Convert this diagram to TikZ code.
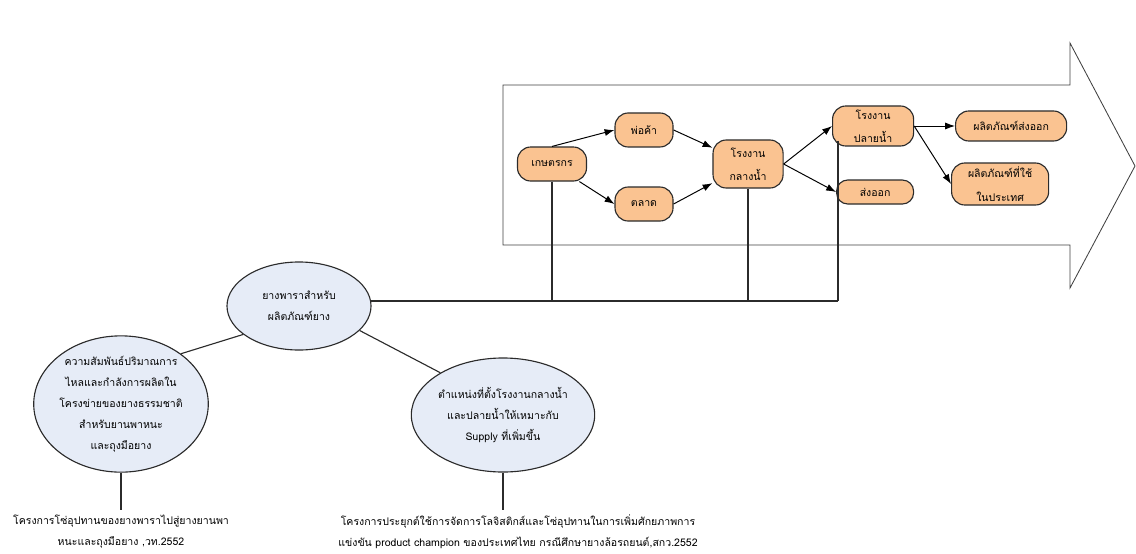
\documentclass[tikz,border=0pt]{standalone}
\usepackage{fontspec}
\newfontfamily\thaifont[Script=Thai]{Loma}
\usetikzlibrary{positioning, arrows.meta, calc, shapes.geometric}

\definecolor{boxorange}{HTML}{FAC391}
\definecolor{ellblue}{HTML}{E6ECF7}
\definecolor{edgegray}{HTML}{2B2B2B}

\begin{document}
\begin{tikzpicture}[x=0.025cm, y=-0.025cm, on grid,
    font=\thaifont\fontsize{7.5}{15}\selectfont,
    flowbox/.style={draw=edgegray, line width=0.8pt, fill=boxorange, rounded corners=0.33cm, align=center, inner sep=1pt, font=\thaifont\fontsize{7.5}{16.5}\selectfont},
    topic/.style={ellipse, draw=edgegray, line width=0.8pt, fill=ellblue, align=center, inner sep=0pt},
    source/.style={align=center, anchor=north, inner xsep=0pt, inner ysep=3pt},
    flow/.style={-{Latex[length=7pt,width=5pt]}, line width=0.7pt},
    link/.style={line width=0.8pt, draw=edgegray}]

  \useasboundingbox (0,0) rectangle (1136,553);

  % Big arrow behind the chain
  \draw[line width=0.6pt, draw=black!75, fill=white] (503,85) -- (1070,85) -- (1070,43) -- (1135,166) -- (1070,288) -- (1070,245) -- (503,245) -- cycle;

  % Nodes for the rubber chain
  \node[flowbox, minimum width=1.725cm, minimum height=0.85cm] (kaset) at (552,164) {เกษตรกร};
  \node[flowbox, minimum width=1.45cm, minimum height=0.85cm] (pho) [above right=0.85cm and 2.3cm of kaset] {พ่อค้า};
  \node[flowbox, minimum width=1.45cm, minimum height=0.85cm] (talad) [below right=1cm and 2.3cm of kaset] {ตลาด};
  \node[flowbox, minimum width=1.75cm, minimum height=1.2cm] (klang) [right=4.9cm of kaset] {โรงงาน\\กลางน้ำ};
  \node[flowbox, minimum width=2.025cm, minimum height=1cm] (pl) [above right=0.95cm and 3.125cm of klang] {โรงงาน\\ปลายน้ำ};
  \node[flowbox, minimum width=1.925cm, minimum height=0.6cm, rounded corners=0.28cm] (songok) [below right=0.7cm and 3.175cm of klang] {ส่งออก};
  \node[flowbox, minimum width=2.775cm, minimum height=0.75cm] (pexp) [right=3.45cm of pl] {ผลิตภัณฑ์ส่งออก};
  \node[flowbox, minimum width=2.425cm, minimum height=1.05cm] (pdom) [below right=1.45cm and 3.175cm of pl] {ผลิตภัณฑ์ที่ใช้\\ในประเทศ};

  % Nodes for the topics
  \node[topic, minimum width=3.6cm, minimum height=2.2cm] (rubber) at (299,306) {ยางพาราสำหรับ\\ผลิตภัณฑ์ยาง};
  \node[topic, minimum width=4.35cm, minimum height=3.3cm] (flowrel) at (121,404) {ความสัมพันธ์ปริมาณการ\\ไหลและกำลังการผลิตใน\\โครงข่ายของยางธรรมชาติ\\สำหรับยานพาหนะ\\และถุงมือยาง};
  \node[topic, minimum width=4.55cm, minimum height=2.85cm] (siting) at (503,415) {ตำแหน่งที่ตั้งโรงงานกลางน้ำ\\และปลายน้ำให้เหมาะกับ\\Supply ที่เพิ่มขึ้น};
  \node[source] (ref1) at (121,510) {โครงการโซ่อุปทานของยางพาราไปสู่ยางยานพา\\หนะและถุงมือยาง ,วท.2552};
  \node[source] (ref2) at (518,510) {โครงการประยุกต์ใช้การจัดการโลจิสติกส์และโซ่อุปทานในการเพิ่มศักยภาพการ\\แข่งขัน product champion ของประเทศไทย กรณีศึกษายางล้อรถยนต์,สกว.2552};

  % Edges for the rubber chain
  \path[flow]
    (kaset.north) edge (pho.west)
    (kaset) edge (talad.west)
    (pho.east) edge (klang)
    (talad.east) edge (klang)
    (klang.east) edge (pl.west)
    (klang.east) edge (songok.west)
    (pl.east) edge (pexp.west)
    (pl.east) edge (pdom.west);

  % Links between the topics
  \draw[link] (flowrel.40) -- (rubber.207);
  \draw[link] (rubber.-22) -- (siting.146);
  \draw[link] (flowrel) -- (ref1);
  \draw[link] (siting.south) -- (siting.south |- ref2.north);

  % Bus from the topic to the chain
  \coordinate (busend) at ($(rubber.4 -| pl.south west)+(6,0)$);
  \draw[link] (rubber.4) -- (busend);
  \draw[link] (kaset) -- (kaset |- busend);
  \draw[link] (klang) -- (klang |- busend);
  \draw[link] ($(busend |- pl.south)+(0,-6)$) -- (busend);

\end{tikzpicture}
\end{document}
